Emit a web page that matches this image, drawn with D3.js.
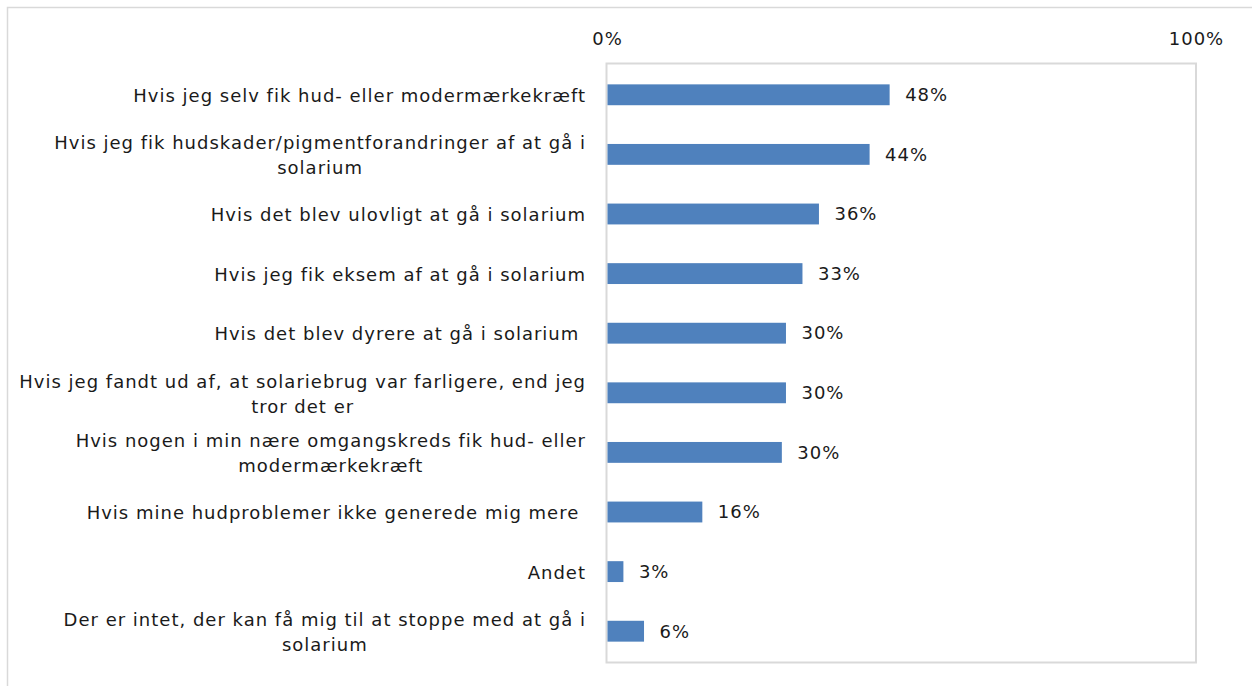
<!DOCTYPE html>
<html>
<head>
<meta charset="utf-8">
<script src="https://cdn.jsdelivr.net/npm/d3@7"></script>
<style>
  html, body { margin: 0; padding: 0; background: #fff; }
  svg { display: block; }
  text { font-family: "DejaVu Sans", "Noto Sans", sans-serif; fill: #1a1a1a; letter-spacing: 1px; }
</style>
</head>
<body>
<svg id="chart" width="1252" height="686"></svg>
<script>
const categories = [
  "Hvis jeg selv fik hud- eller modermærkekræft",
  "Hvis jeg fik hudskader/pigmentforandringer af at gå i|solarium",
  "Hvis det blev ulovligt at gå i solarium",
  "Hvis jeg fik eksem af at gå i solarium",
  "Hvis det blev dyrere at gå i solarium ",
  "Hvis jeg fandt ud af, at solariebrug var farligere, end jeg|tror det er",
  "Hvis nogen i min nære omgangskreds fik hud- eller|modermærkekræft",
  "Hvis mine hudproblemer ikke generede mig mere ",
  "Andet",
  "Der er intet, der kan få mig til at stoppe med at gå i|solarium"
];
const values = [47.9, 44.5, 35.9, 33.1, 30.3, 30.3, 29.6, 16.1, 2.7, 6.2];
const valueLabels = ["48%", "44%", "36%", "33%", "30%", "30%", "30%", "16%", "3%", "6%"];
const tickValues = [0, 100];
const tickLabels = ["0%", "100%"];

const svg = d3.select("#chart");
const fontSize = 18;
const fontFamily = "'DejaVu Sans', 'Noto Sans', sans-serif";

// outer frame
svg.append("rect")
  .attr("x", 7.5).attr("y", 7.5)
  .attr("width", 1400).attr("height", 800)
  .attr("fill", "none").attr("stroke", "#d9d9d9").attr("stroke-width", 1.5);

const plot = { left: 607, right: 1196, top: 63.5, bottom: 662.5 };

const x = d3.scaleLinear().domain([0, 100]).range([plot.left, plot.right]);
const y = d3.scaleBand().domain(d3.range(categories.length))
  .range([plot.top, plot.bottom]).paddingInner(0.65).paddingOuter(0.35);

// plot box
svg.append("rect")
  .attr("x", plot.left - 0.5).attr("y", plot.top)
  .attr("width", plot.right - plot.left + 0.5).attr("height", plot.bottom - plot.top)
  .attr("fill", "none").attr("stroke", "#d9d9d9").attr("stroke-width", 2);

// top axis labels
const axis = d3.axisTop(x).tickValues(tickValues)
  .tickFormat((d, i) => tickLabels[i]).tickSize(0).tickPadding(0);
const gAxis = svg.append("g").attr("transform", `translate(0, 45)`).call(axis);
gAxis.select(".domain").remove();
gAxis.selectAll("text")
  .style("font-family", fontFamily)
  .style("font-size", fontSize + "px").attr("fill", "#1a1a1a");

// bars
svg.append("g").selectAll("rect").data(values).join("rect")
  .attr("x", x(0) + 0.5)
  .attr("y", (d, i) => y(i))
  .attr("width", d => x(d) - x(0))
  .attr("height", y.bandwidth())
  .attr("fill", "#4f81bd");

// value labels
svg.append("g").selectAll("text").data(values).join("text")
  .attr("x", d => x(d) + 16)
  .attr("y", (d, i) => y(i) + y.bandwidth() / 2)
  .attr("dy", "0.35em")
  .style("font-size", fontSize + "px")
  .text((d, i) => valueLabels[i]);

// category labels
const labelRight = 586;
const lineH = 25;
const gLab = svg.append("g");
categories.forEach((c, i) => {
  const lines = c.split("|");
  const cy = y(i) + y.bandwidth() / 2;
  const g = gLab.append("g");
  const texts = lines.map((ln, j) => g.append("text")
    .style("font-size", fontSize + "px")
    .style("white-space", "pre")
    .attr("text-anchor", "middle")
    .attr("y", cy + (j - (lines.length - 1) / 2) * lineH + 1)
    .attr("dy", "0.35em")
    .text(ln));
  const maxW = d3.max(texts, t => t.node().getComputedTextLength());
  texts.forEach(t => t.attr("x", labelRight - maxW / 2));
});
</script>
</body>
</html>
